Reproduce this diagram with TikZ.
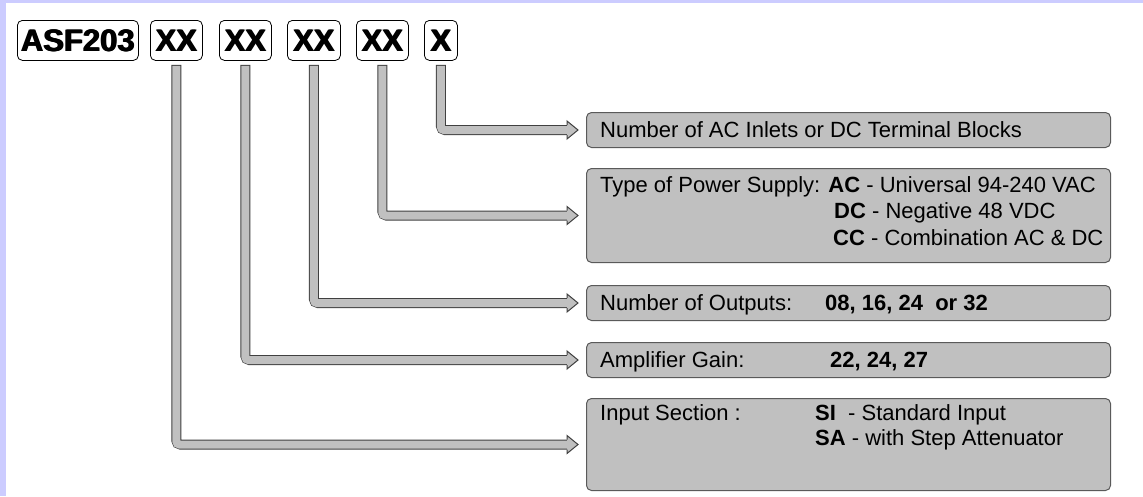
\documentclass[tikz,border=0pt]{standalone}
\usepackage{fontspec}
\setmainfont{Liberation Sans}
\newcommand\heavytext[1]{\rlap{#1}\rlap{\hspace{0.7pt}#1}\hspace{1.4pt}#1}
\usetikzlibrary{calc}
\definecolor{lav}{HTML}{CCCCFF}
\definecolor{cgray}{HTML}{C0C0C0}
\definecolor{cline}{HTML}{404040}
\definecolor{bline}{HTML}{5A5A5A}
\tikzset{
  codebox/.style={draw=black, fill=white, rounded corners=5pt, line width=0.8pt, inner sep=0pt,
    anchor=north west, minimum height=40pt, font=\bfseries\fontsize{31}{36}\selectfont},
  infobox/.style={draw=bline, fill=cgray, rounded corners=5pt, line width=1pt, inner sep=0pt,
    anchor=north west, minimum width=524pt},
  infotext/.style={anchor=base west, inner sep=0pt, font=\fontsize{22}{26}\selectfont},
  connout/.style={draw=cline, line width=10pt, rounded corners=4pt},
  connin/.style={draw=cgray, line width=8pt, rounded corners=3pt},
}
\begin{document}
\begin{tikzpicture}[x=1pt,y=-1pt]
\useasboundingbox (0,0) rectangle (1143,496);
\fill[white] (0,0) rectangle (1143,496);
\fill[lav] (0,0) rectangle (6,496);
\fill[lav] (0,0) rectangle (1143,3);

% code boxes
\node[codebox, minimum width=121pt] (asf) at (17,20) {\heavytext{ASF203}};
\node[codebox, minimum width=52pt] (xx1) at (150,20) {\heavytext{XX}};
\node[codebox, minimum width=52pt] (xx2) at (219,20) {\heavytext{XX}};
\node[codebox, minimum width=53pt] (xx3) at (287,20) {\heavytext{XX}};
\node[codebox, minimum width=52pt] (xx4) at (356,20) {\heavytext{XX}};
\node[codebox, minimum width=33pt] (x5) at (424,20) {\heavytext{X}};

% info boxes
\node[infobox, minimum height=35pt] (box1) at (586,112) {};
\node[infobox, minimum height=94pt] (box2) at (586,168) {};
\node[infobox, minimum height=35pt] (box3) at (586,285) {};
\node[infobox, minimum height=35pt] (box4) at (586,342) {};
\node[infobox, minimum height=92pt] (box5) at (586,398) {};

% connectors
\foreach \s/\t in {x5/box1, xx4/box2, xx3/box3, xx2/box4, xx1/box5} {
  \draw[connout] ([yshift=-4pt]\s.south) |- ([xshift=-18pt]\t.west);
  \draw[connin] ([yshift=-5pt]\s.south) |- ([xshift=-18pt]\t.west);
  \fill[cgray] ($(\t.west)+(-19pt,9pt)$) -- ($(\t.west)+(-8pt,0pt)$) -- ($(\t.west)+(-19pt,-9pt)$) -- cycle;
  \draw[cline, line width=1pt, line join=miter] ($(\t.west)+(-19pt,5pt)$) -- ($(\t.west)+(-19pt,9pt)$)
     -- ($(\t.west)+(-8pt,0pt)$) -- ($(\t.west)+(-19pt,-9pt)$) -- ($(\t.west)+(-19pt,-5pt)$);
}

% texts
\node[infotext] (t1) at (600,137) {Number of AC Inlets or DC Terminal Blocks};
\node[infotext] (t2a) at (600,192) {Type of Power Supply: \textbf{AC} - Universal 94-240 VAC};
\node[infotext] (t2b) at (834,218) {\textbf{DC} - Negative 48 VDC};
\node[infotext] (t2c) at (833,245) {\textbf{CC} - Combination AC \& DC};
\node[infotext] (t3a) at (600,310) {Number of Outputs:};
\node[infotext] (t3b) at (825,310) {\textbf{08, 16, 24\ \ or 32}};
\node[infotext] (t4a) at (600,367) {Amplifier Gain:};
\node[infotext] (t4b) at (830,367) {\textbf{22, 24, 27}};
\node[infotext] (t5a) at (600,420) {Input Section :};
\node[infotext] (t5b) at (815,420) {\textbf{SI}\ \ - Standard Input};
\node[infotext] (t5c) at (815,445) {\textbf{SA} - with Step Attenuator};
\end{tikzpicture}
\end{document}
